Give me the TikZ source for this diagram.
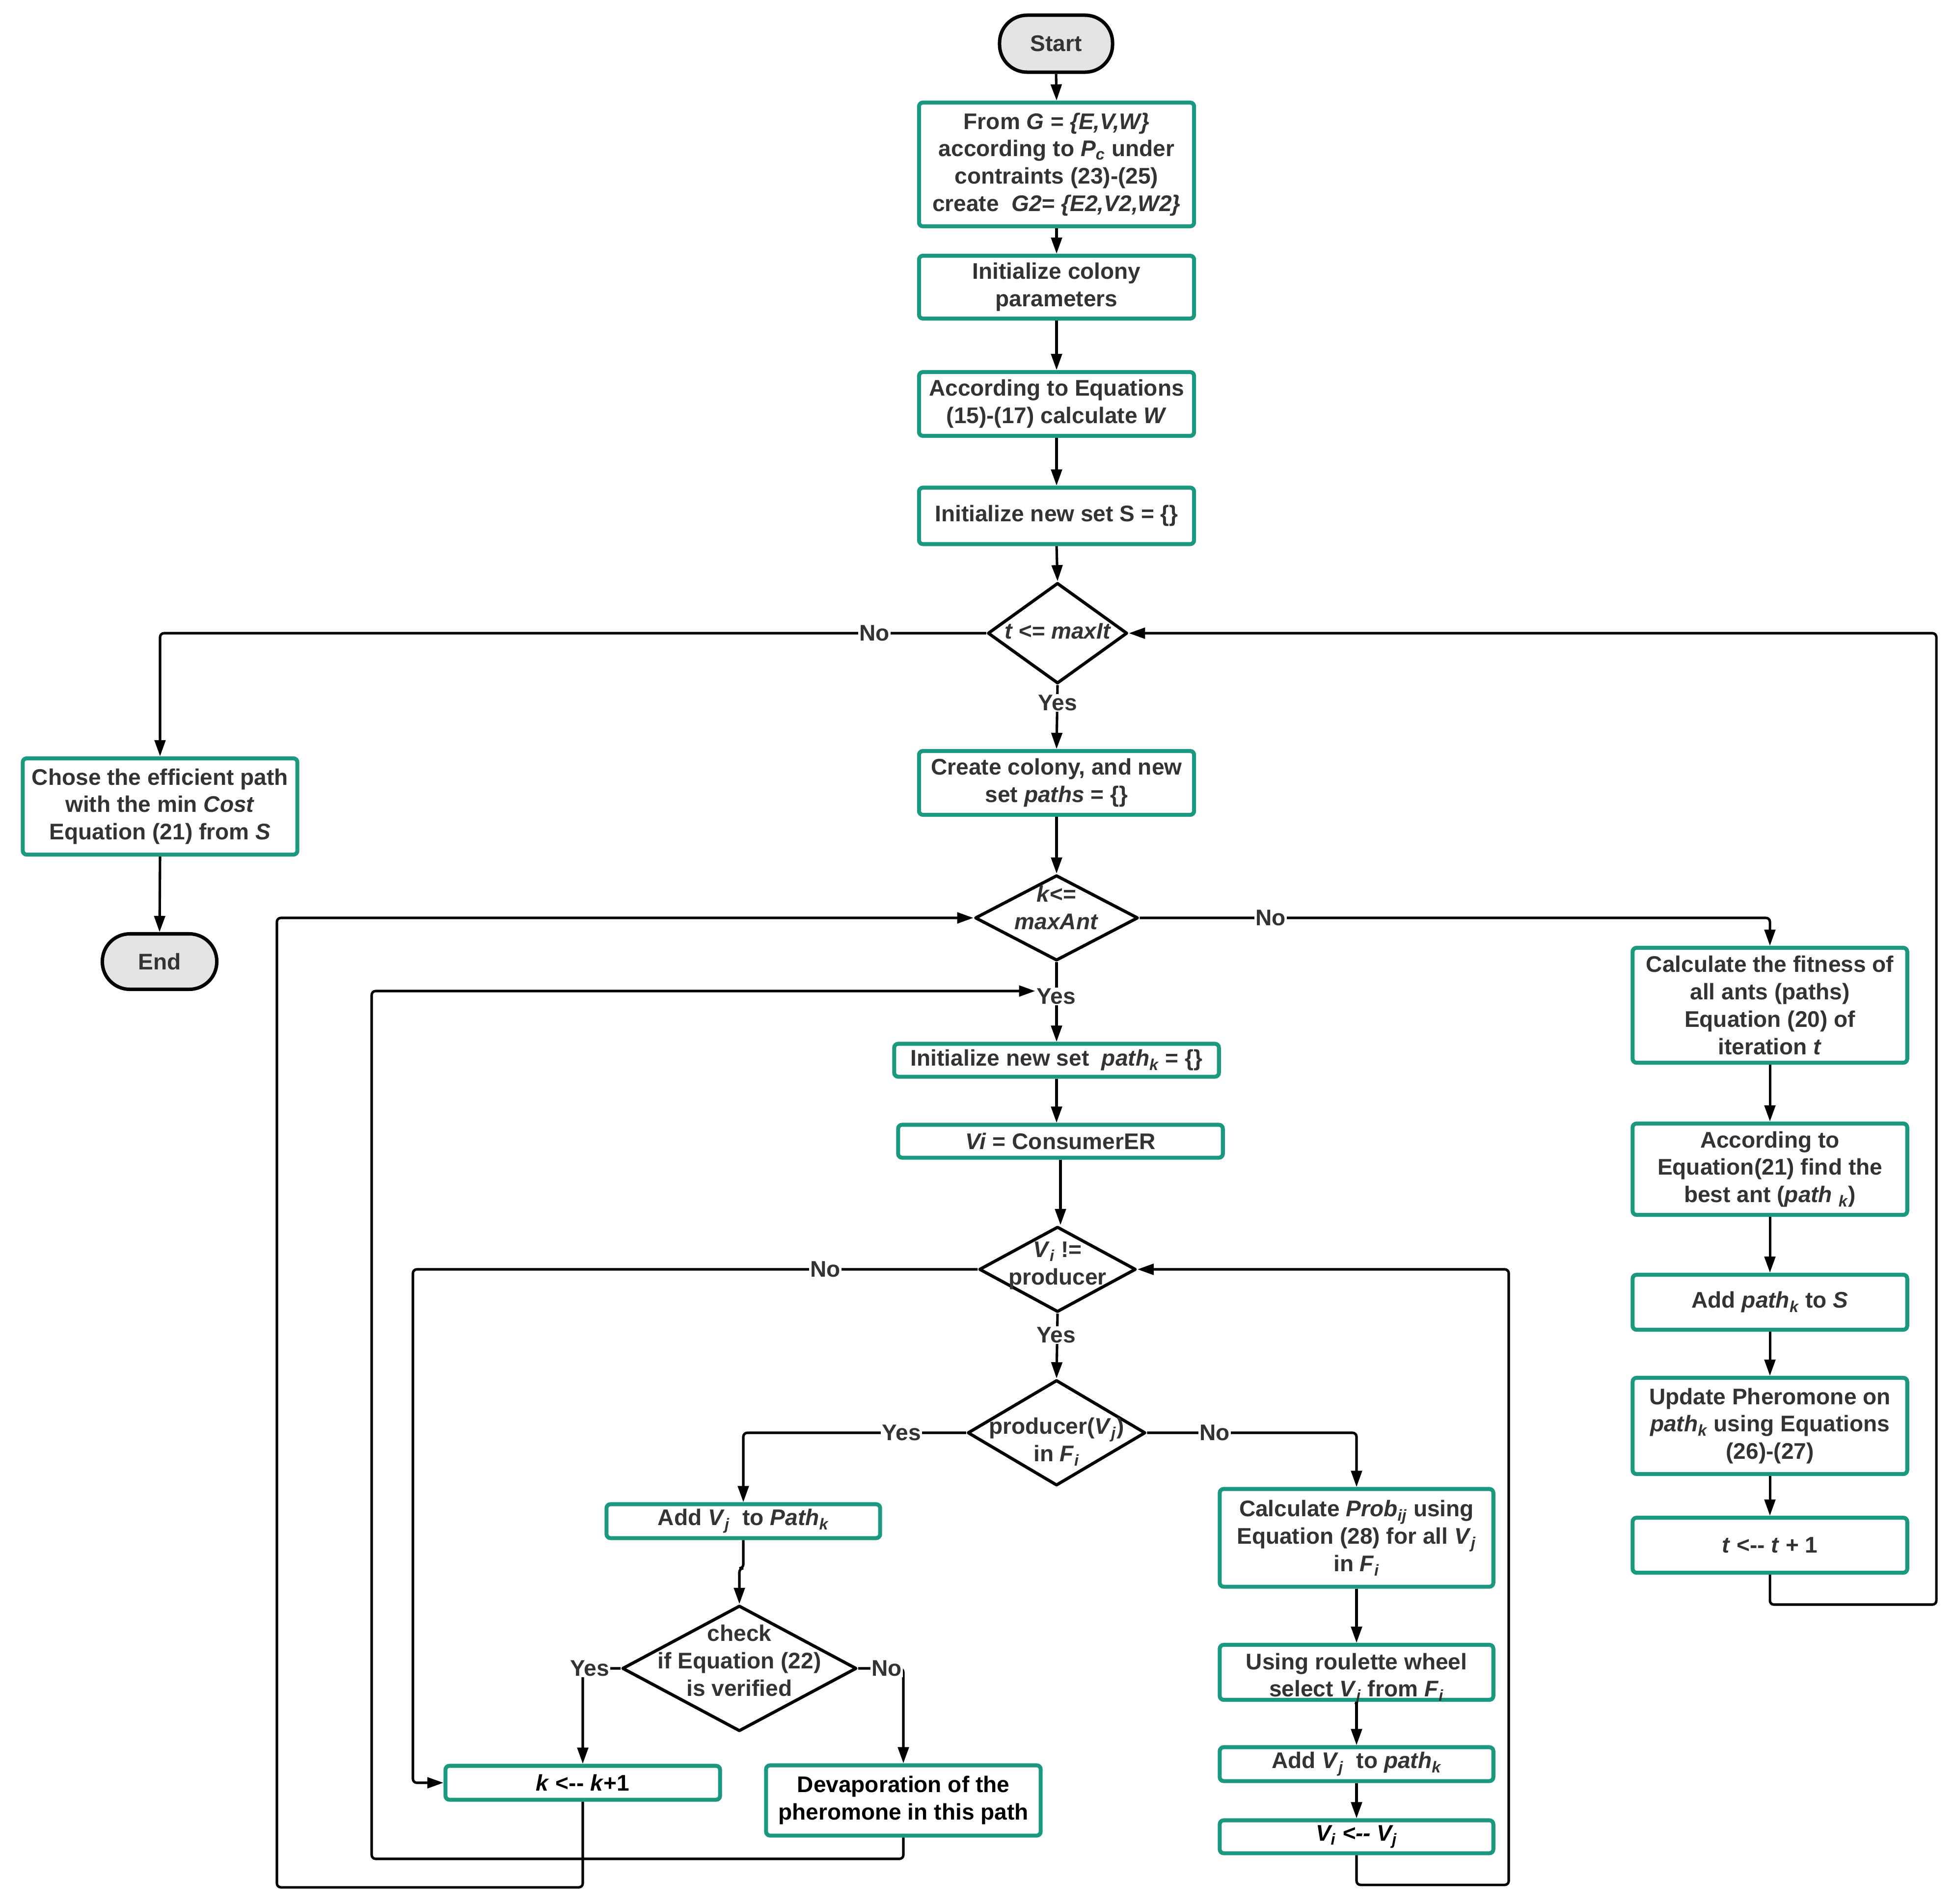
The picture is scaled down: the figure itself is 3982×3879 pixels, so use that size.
\documentclass[tikz,border=0pt]{standalone}
\usepackage{fontspec}
\setmainfont{Liberation Sans}
\usetikzlibrary{shapes.geometric,arrows.meta}
\definecolor{teal1}{HTML}{1A9880}
\definecolor{txt}{HTML}{333333}
\definecolor{termg}{HTML}{E3E3E3}
\newcommand\sub[1]{\textsubscript{\itshape #1}}
\newcommand\bfnt{\fontsize{13.1pt}{15.9pt}\selectfont\bfseries}
\begin{document}
\begin{tikzpicture}[x=0.01cm,y=-0.01cm,
  box/.style={draw=teal1, line width=2.3pt, rounded corners=0.08cm, fill=white,
    align=center, inner sep=0pt, text=txt, font=\bfnt},
  term/.style={draw=black, line width=2pt, fill=termg, rounded corners=0.56cm,
    inner sep=0pt, text=txt, font=\bfnt},
  dia/.style={draw=black, line width=1.8pt, line join=round, diamond, inner sep=0pt, fill=white},
  dtext/.style={align=center, inner sep=0pt, text=txt, font=\bfnt},
  lab/.style={fill=white, inner sep=0.02cm, text=txt, font=\bfnt},
  conn/.style={draw=black, line width=1.45pt, rounded corners=0.08cm},
  arr/.style={conn, -{Triangle[length=0.33cm,width=0.22cm]}}
]
\useasboundingbox (0,0) rectangle (3982,3879);

% ---------- main column ----------
\node[term, minimum width=2.3cm, minimum height=1.16cm] (start) at (2151,89) {Start};
\node[box, minimum width=5.6cm, minimum height=2.52cm] (b1) at (2152,335)
  {From \textit{G = \{E,V,W\}}\\according to \textit{P}\sub{c} under\\contraints (23)-(25)\\create\ \ \textit{G2= \{E2,V2,W2\}}};
\node[box, minimum width=5.6cm, minimum height=1.28cm] (b2) at (2152,585) {Initialize colony\\parameters};
\node[box, minimum width=5.6cm, minimum height=1.30cm] (b3) at (2152,823) {According to Equations\\(15)-(17) calculate \textit{W}};
\node[box, minimum width=5.6cm, minimum height=1.15cm] (b4) at (2152,1051) {Initialize new set S = \{\}};
\node[dia, minimum width=2.84cm, minimum height=2.05cm] (d1) at (2154,1290) {};
\node[dtext] (d1t) at (2154,1286) {\itshape t <= maxIt};
\node[box, minimum width=5.6cm, minimum height=1.30cm] (b5) at (2152,1595) {Create colony, and new\\set \textit{paths} = \{\}};
\node[dia, minimum width=3.32cm, minimum height=1.74cm] (d2) at (2152,1870) {};
\node[dtext] (d2t) at (2152,1849) {\textit{k}<=\\\textit{maxAnt}};
\node[box, minimum width=6.61cm, minimum height=0.67cm] (b6) at (2152,2160) {Initialize new set\ \ \textit{path}\sub{k} = \{\}};
\node[box, minimum width=6.61cm, minimum height=0.67cm] (b7) at (2160,2325) {\textit{Vi} = ConsumerER};
\node[dia, minimum width=3.19cm, minimum height=1.74cm] (d3) at (2154,2586) {};
\node[dtext] (d3t) at (2154,2578) {\textit{V}\sub{i} !=\\producer};
\node[dia, minimum width=3.62cm, minimum height=2.15cm] (d4) at (2152,2919) {};
\node[dtext] (d4t) at (2152,2937) {producer(\textit{V}\sub{j})\\in \textit{F}\sub{i}};

% ---------- lower left ----------
\node[box, minimum width=5.57cm, minimum height=0.69cm] (b8) at (1514,3099) {Add \textit{V}\sub{j}\ \ to \textit{Path}\sub{k}};
\node[dia, minimum width=4.77cm, minimum height=2.56cm] (d5) at (1506,3399) {};
\node[dtext] (d5t) at (1506,3383) {check\\if Equation (22)\\is verified};
\node[box, text=black, minimum width=5.59cm, minimum height=0.69cm] (b9) at (1187,3632) {\textit{k} <-{}- \textit{k}+1};
\node[box, text=black, minimum width=5.59cm, minimum height=1.43cm] (b10) at (1840,3668) {Devaporation of the\\pheromone in this path};

% ---------- far left ----------
\node[box, minimum width=5.59cm, minimum height=1.96cm] (b11) at (326,1643)
  {Chose the efficient path\\with the min \textit{Cost}\\Equation (21) from \textit{S}};
\node[term, minimum width=2.33cm, minimum height=1.13cm] (end) at (325,1959) {End};

% ---------- right column ----------
\node[box, minimum width=5.59cm, minimum height=2.34cm] (b12) at (3605,2048)
  {Calculate the fitness of\\all ants (paths)\\Equation (20) of\\iteration \textit{t}};
\node[box, minimum width=5.59cm, minimum height=1.86cm] (b13) at (3605,2382)
  {According to\\Equation(21) find the\\best ant (\textit{path} \sub{k})};
\node[box, minimum width=5.59cm, minimum height=1.12cm] (b14) at (3605,2653) {Add \textit{path}\sub{k} to \textit{S}};
\node[box, minimum width=5.59cm, minimum height=1.96cm] (b15) at (3605,2905)
  {Update Pheromone on\\\textit{path}\sub{k} using Equations\\(26)-(27)};
\node[box, minimum width=5.59cm, minimum height=1.12cm] (b16) at (3605,3148) {\textit{t} <-{}- \textit{t} + 1};

% ---------- middle right column ----------
\node[box, minimum width=5.57cm, minimum height=1.99cm] (b17) at (2763,3133)
  {Calculate \textit{Prob}\sub{ij} using\\Equation (28) for all \textit{V}\sub{j}\\in \textit{F}\sub{i}};
\node[box, minimum width=5.57cm, minimum height=1.12cm] (b18) at (2763,3407) {};
\node[dtext] (b18t) at (2763,3420) {Using roulette wheel\\select \textit{V}\sub{j} from \textit{F}\sub{i}};
\node[box, minimum width=5.57cm, minimum height=0.69cm] (b19) at (2763,3594) {Add \textit{V}\sub{j}\ \ to \textit{path}\sub{k}};
\node[box, text=black, minimum width=5.57cm, minimum height=0.67cm] (b20) at (2763,3742) {\itshape V\sub{i} <-{}- V\sub{j}};

% ---------- connectors ----------
\draw[arr] (start.south) -- (b1.north);
\draw[arr] (b1.south) -- (b2.north);
\draw[arr] (b2.south) -- (b3.north);
\draw[arr] (b3.south) -- (b4.north);
\draw[arr] (b4.south) -- (d1.north);
\draw[arr] (d1.south) -- (b5.north);
\draw[arr] (b5.south) -- (d2.north);
\draw[arr] (d2.south) -- (b6.north);
\draw[arr] (b6.south) -- (b6.south |- b7.north);
\draw[arr] (b7.south) -- (b7.south |- d3.north);
\draw[arr] (d3.south) -- (d4.north);
\draw[arr] (d1.west) -| (b11.north);
\draw[arr] (b11.south) -- (end.north);
\draw[arr] (d2.east) -| (b12.north);
\draw[arr] (b12.south) -- (b13.north);
\draw[arr] (b13.south) -- (b14.north);
\draw[arr] (b14.south) -- (b15.north);
\draw[arr] (b15.south) -- (b16.north);
\draw[arr] (b16.south) |- (3944,3269) |- (d1.east);
\draw[arr] (d3.west) -- (841,2586) |- (b9.west);
\draw[arr] (d4.west) -| (b8.north);
\draw[arr] (d4.east) -| (b17.north);
\draw[arr] (b17.south) -- (b18.north);
\draw[arr] (b18.south) -- (b19.north);
\draw[arr] (b19.south) -- (b20.north);
\draw[arr] (b20.south) |- (3073,3840) |- (d3.east);
\draw[arr] (b8.south) -- (b8.south |- 0,3195) -| (d5.north);
\draw[arr] (d5.west) -| (b9.north);
\draw[arr] (d5.east) -| (b10.north);
\draw[arr] (b9.south) |- (564,3845) |- (d2.west);

% ---------- labels ----------
\node[lab] (no1) at (1781,1290) {No};
\node[lab] (yes1) at (2154,1432) {Yes};
\node[lab] (no2) at (2588,1870) {No};
\node[lab] (yes2) at (2151,2030) {Yes};
\node[lab] (no3) at (1681,2586) {No};
\node[lab] (yes3) at (2151,2720) {Yes};
\node[lab] (yes4) at (1836,2919) {Yes};
\node[lab] (no4) at (2474,2919) {No};
\node[lab] (yes5) at (1201,3399) {Yes};
\node[lab] (no5) at (1806,3399) {No};
\draw[arr] (b10.south) |- (757,3787) |- ([yshift=0.11cm]yes2.west);
\end{tikzpicture}
\end{document}
